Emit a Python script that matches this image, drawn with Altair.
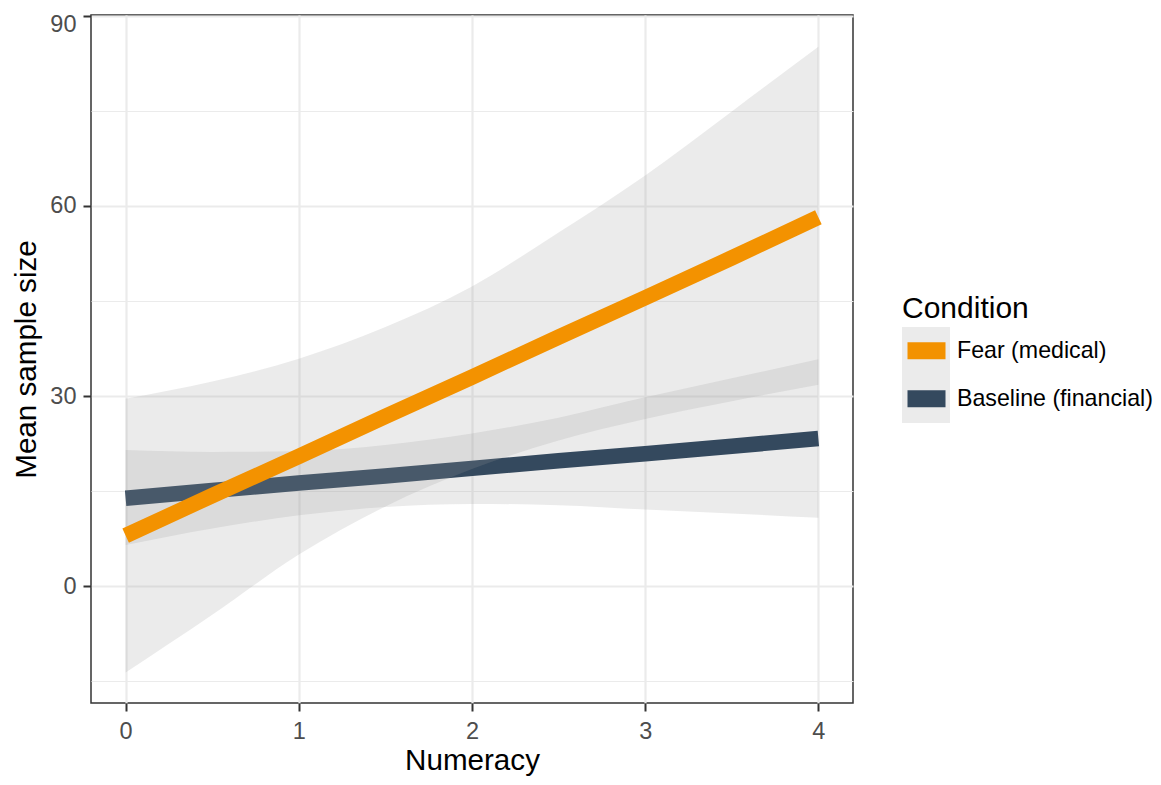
import altair as alt
import pandas as pd

# ---- data ----
numeracy = [0, 0.5, 1, 1.5, 2, 2.5, 3, 3.5, 4]

fear_fit = [8.0, 14.3, 20.5, 26.8, 33.0, 39.3, 45.5, 51.8, 58.2]
fear_hi = [29.6, 32.3, 35.9, 40.9, 47.3, 55.8, 64.8, 74.9, 85.1]
fear_lo = [-13.6, -4.5, 5.0, 12.6, 18.5, 23.0, 26.4, 29.2, 31.8]

base_fit = [13.9, 15.1, 16.3, 17.4, 18.6, 19.8, 20.9, 22.1, 23.3]
base_hi = [21.5, 21.2, 21.3, 22.3, 24.1, 26.6, 29.8, 32.8, 35.8]
base_lo = [6.5, 9.1, 11.2, 12.5, 13.0, 12.8, 12.1, 11.5, 10.8]

conditions = ["Fear (medical)", "Baseline (financial)"]
line_colors = ["#F39200", "#34495E"]

x_ticks = [0, 0.5, 1, 1.5, 2, 2.5, 3, 3.5, 4]
y_ticks = [-15, 0, 15, 30, 45, 60, 75, 90]

rows = []
for cond, fit, lo, hi in [
    (conditions[0], fear_fit, fear_lo, fear_hi),
    (conditions[1], base_fit, base_lo, base_hi),
]:
    for xv, f, l, h in zip(numeracy, fit, lo, hi):
        rows.append({"Numeracy": xv, "Condition": cond, "fit": f, "lo": l, "hi": h})
df = pd.DataFrame(rows)

FONT = "Liberation Sans"

PLOT_W = 762
PLOT_H = 688
TOP = 7  # padding above the plot area

xscale = alt.Scale(domain=[-0.2, 4.2], nice=False, zero=False)
yscale = alt.Scale(domain=[-18.4, 90.1], nice=False, zero=False)

xaxis = alt.Axis(
    values=x_ticks,
    title="Numeracy",
    format="d",
    labelExpr="datum.value % 1 === 0 ? datum.label : ''",
    gridWidth={"condition": {"test": "datum.value % 1 !== 0", "value": 1.1}, "value": 2.2},
    tickWidth={"condition": {"test": "datum.value % 1 !== 0", "value": 0}, "value": 2},
    labelPadding=8,
    titleY=43,
    labelFlush=False,
)
yaxis = alt.Axis(
    values=y_ticks,
    title="Mean sample size",
    format="d",
    labelExpr="datum.value % 30 === 0 ? datum.label : ''",
    gridWidth={"condition": {"test": "datum.value % 30 !== 0", "value": 1.1}, "value": 2.2},
    tickWidth={"condition": {"test": "datum.value % 30 !== 0", "value": 0}, "value": 2},
    labelPadding=7,
    labelFlush=3,
    labelFlushOffset=3,
    titleX=-49.5,
    titleY=PLOT_H / 2,
)

X = alt.X("Numeracy:Q", scale=xscale, axis=xaxis)

# grey key background + legend title
fill_legend = alt.Legend(
    title="Condition",
    orient="none",
    legendX=811,
    legendY=294 - 8 - TOP,
    symbolType="square",
    symbolSize=2304,
    symbolStrokeWidth=0,
    symbolOpacity=0.2,
    clipHeight=48,
    rowPadding=0,
    padding=0,
    labelExpr="''",
    labelOffset=0,
    titleFont=FONT,
    titleFontSize=30,
    titleFontWeight="normal",
    titleColor="black",
    titlePadding=3,
)
# coloured keys + labels
color_legend = alt.Legend(
    title=None,
    orient="none",
    legendX=808,
    legendY=326.7 - 8 - TOP,
    symbolType="stroke",
    symbolSize=1444,
    symbolStrokeWidth=17,
    clipHeight=48,
    rowPadding=0,
    padding=0,
    labelFont=FONT,
    labelFontSize=23.2,
    labelColor="black",
    labelOffset=3,
    labelLimit=0,
)


def band(cond):
    return (
        alt.Chart(df)
        .transform_filter(alt.datum.Condition == cond)
        .transform_calculate(Band="datum.Condition")
        .mark_area(opacity=0.2, interpolate="monotone")
        .encode(
            x=X,
            y=alt.Y("lo:Q", scale=yscale, axis=yaxis),
            y2="hi:Q",
            fill=alt.Fill(
                "Band:N",
                scale=alt.Scale(range=["#999999", "#999999"]),
                legend=fill_legend,
            ),
        )
    )


def line(cond):
    return (
        alt.Chart(df)
        .transform_filter(alt.datum.Condition == cond)
        .mark_line(strokeWidth=15.5, strokeCap="butt")
        .encode(
            x=X,
            y=alt.Y("fit:Q", scale=yscale, axis=yaxis),
            color=alt.Color(
                "Condition:N",
                scale=alt.Scale(domain=conditions, range=line_colors),
                legend=color_legend,
            ),
        )
    )


chart = (
    alt.layer(band(conditions[1]), line(conditions[1]), band(conditions[0]), line(conditions[0]))
    .properties(
        width=PLOT_W,
        height=PLOT_H,
        autosize=alt.AutoSizeParams(type="none"),
        padding={"left": 83, "top": TOP, "right": 300, "bottom": 74},
    )
    .configure(font=FONT)
    .configure_view(stroke="#333333", strokeWidth=1.5)
    .configure_axis(
        domain=False,
        gridColor="#EBEBEB",
        tickColor="#333333",
        tickSize=8,
        labelFont=FONT,
        labelFontSize=23.5,
        labelColor="#4D4D4D",
        titleFont=FONT,
        titleFontSize=29.6,
        titleFontWeight="normal",
        titleColor="black",
    )
)

chart.save("out.html", embed_options={"renderer": "svg", "actions": False})
